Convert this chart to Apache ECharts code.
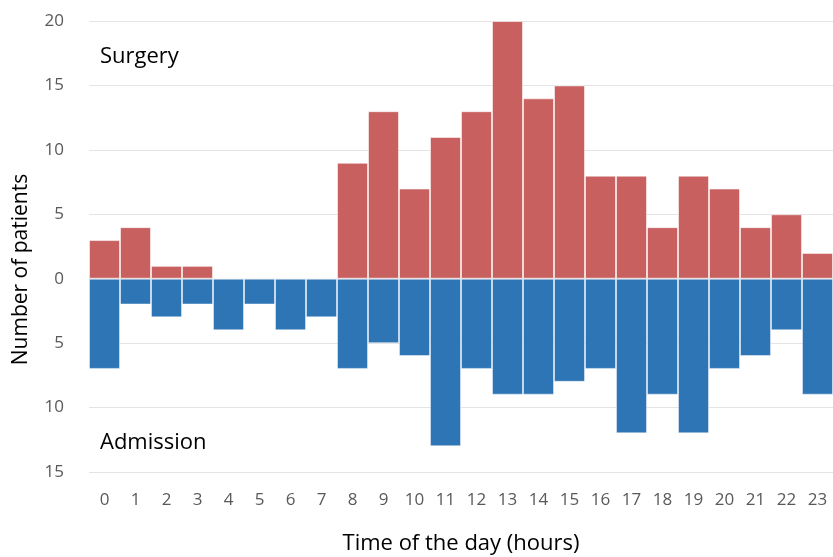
<!DOCTYPE html>
<html><head><meta charset="utf-8">
<script src="https://cdn.jsdelivr.net/npm/echarts@6/dist/echarts.min.js"></script>
<style>html,body{margin:0;padding:0;background:#fff}#c{width:833px;height:557px}</style>
</head><body><div id="c"></div>
<script>
const hours = ['0','1','2','3','4','5','6','7','8','9','10','11','12','13','14','15','16','17','18','19','20','21','22','23'];
const surgery = [3,4,1,1,0,0,0,0,9,13,7,11,13,20,14,15,8,8,4,8,7,4,5,2];
const admission = [7,2,3,2,4,2,4,3,7,5,6,13,7,9,9,8,7,12,9,12,7,6,4,9];
const FONT = 'Open Sans';
const chart = echarts.init(document.getElementById('c'));
chart.setOption({
  animation: false,
  textStyle: {fontFamily: FONT},
  grid: {left: 89, right: 0, top: 21, bottom: 85, containLabel: false, outerBoundsMode: 'none'},
  xAxis: {
    type: 'category', data: hours,
    axisLine: {show: false}, axisTick: {show: false},
    axisLabel: {color: '#595959', fontSize: 17, margin: 20, fontFamily: FONT},
    name: 'Time of the day (hours)', nameLocation: 'middle', nameGap: 61,
    nameTextStyle: {color: '#000', fontSize: 22, fontFamily: FONT}
  },
  yAxis: {
    type: 'value', min: -15, max: 20, interval: 5,
    axisLine: {show: false}, axisTick: {show: false},
    splitLine: {lineStyle: {color: '#e4e4e4', width: 1}},
    axisLabel: {color: '#595959', fontSize: 17, margin: 25, fontFamily: FONT,
      formatter: v => String(Math.abs(v))},
    name: 'Number of patients', nameLocation: 'middle', nameGap: 57,
    nameTextStyle: {color: '#000', fontSize: 21, fontFamily: FONT, padding: [0, 46, 0, 0]}
  },
  series: [
    {type: 'bar', name: 'Surgery', stack: 'a', data: surgery, barCategoryGap: '0%',
     itemStyle: {color: '#C86060', borderColor: 'rgba(255,255,255,0.55)', borderWidth: 1}},
    {type: 'bar', name: 'Admission', stack: 'a', data: admission.map(v => -v), barCategoryGap: '0%',
     itemStyle: {color: '#2E75B6', borderColor: 'rgba(255,255,255,0.45)', borderWidth: 1}}
  ],
  graphic: [
    {type: 'text', left: 100, top: 46, style: {text: 'Surgery', fontSize: 22, fontFamily: FONT, fill: '#000'}},
    {type: 'text', left: 100, top: 432, style: {text: 'Admission', fontSize: 22, fontFamily: FONT, fill: '#000'}}
  ]
});
</script></body></html>
